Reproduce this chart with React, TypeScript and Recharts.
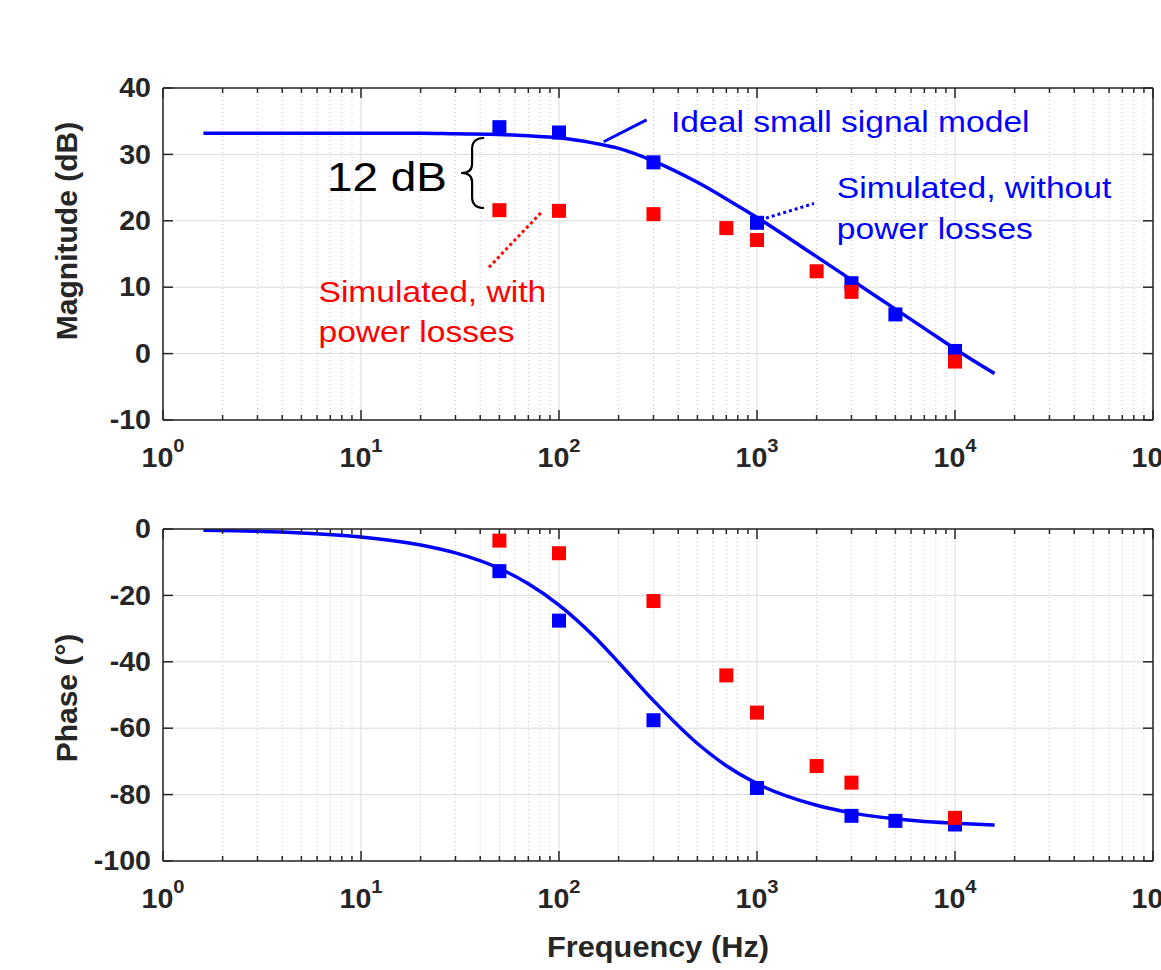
import React from 'react';
import {
  ComposedChart,
  Line,
  Scatter,
  XAxis,
  YAxis,
  CartesianGrid,
  ReferenceLine,
  ReferenceDot,
} from 'recharts';

const FONT = '"Liberation Sans", Arial, Helvetica, sans-serif';
const AXIS = '#262626';
const BLUE = '#0000ff';
const RED = '#ff0000';
const SX = 1.06; // the picture is a bit wider than the fonts

// ideal small signal model
const idealFreq = [1.6, 3, 5, 10, 20, 30, 50, 70, 100, 150, 200, 300, 500, 700, 1000, 2000, 3000, 5000, 7000, 10000, 15850];
const idealMag = [33.2, 33.2, 33.2, 33.2, 33.2, 33.1, 33.0, 32.8, 32.5, 31.7, 30.9, 29.0, 25.8, 23.3, 20.5, 14.6, 11.1, 6.7, 3.8, 0.7, -3.0];
const idealPhase = [-0.4, -0.7, -1.2, -2.4, -4.8, -7.2, -11.9, -16.5, -22.9, -32.3, -40.2, -51.7, -64.6, -71.3, -76.7, -83.2, -85.5, -87.3, -88.1, -88.6, -89.2];

// simulated, without power losses (blue squares)
const noLossFreq = [50, 100, 300, 1000, 3000, 5000, 10000];
const noLossMag = [34.1, 33.3, 28.8, 19.7, 10.6, 5.9, 0.4];
const noLossPhase = [-12.7, -27.6, -57.6, -78.0, -86.4, -87.9, -89.0];

// simulated, with power losses (red squares)
const lossFreq = [50, 100, 300, 700, 1000, 2000, 3000, 10000];
const lossMag = [21.6, 21.5, 21.0, 18.9, 17.1, 12.4, 9.3, -1.2];
const lossPhase = [-3.5, -7.3, -21.7, -44.1, -55.3, -71.4, -76.4, -87.0];

const freqMajor = [1, 10, 100, 1000, 10000, 100000];
const magTicks = [-10, 0, 10, 20, 30, 40];
const phaseTicks = [-100, -80, -60, -40, -20, 0];

const freqMinor: number[] = [];
for (const d of freqMajor.slice(0, -1)) {
  for (let k = 2; k <= 9; k++) freqMinor.push(d * k);
}
const freqAll = [...freqMajor, ...freqMinor].sort((a, b) => a - b);

const pts = (fs: number[], vs: number[]) => fs.map((f, i) => ({ f, v: vs[i] }));

const txt = {
  fontFamily: FONT,
  fill: AXIS,
};

const BottomTick = ({ x, y, payload }: any) => {
  const v = payload.value;
  const major = freqMajor.includes(v);
  return (
    <g>
      <line x1={x} x2={x} y1={y} y2={y - (major ? 10 : 5)} stroke={AXIS} strokeWidth={1.5} />
      {major && (
        <text transform={`translate(${x},${y + 47}) scale(${SX},1)`} textAnchor="middle" fontWeight="bold" fontSize={27} {...txt}>
          <tspan>10</tspan>
          <tspan dy={-15} fontSize={19}>{Math.round(Math.log10(v))}</tspan>
        </text>
      )}
    </g>
  );
};

const TopTick = ({ x, y, payload }: any) => {
  const major = freqMajor.includes(payload.value);
  return <line x1={x} x2={x} y1={y} y2={y + (major ? 10 : 5)} stroke={AXIS} strokeWidth={1.5} />;
};

const LeftTick = ({ x, y, payload }: any) => (
  <g>
    <line x1={x} x2={x + 10} y1={y} y2={y} stroke={AXIS} strokeWidth={1.5} />
    <text transform={`translate(${x - 12},${y}) scale(${SX},1)`} textAnchor="end" dominantBaseline="central" fontWeight="bold" fontSize={27} {...txt}>
      {payload.value}
    </text>
  </g>
);

const RightTick = ({ x, y }: any) => <line x1={x} x2={x - 10} y1={y} y2={y} stroke={AXIS} strokeWidth={1.5} />;

// vertical grid: solid at decades, dotted in between
const VGrid = (p: any) => {
  const major = freqMajor.includes(freqAll[p.index]);
  return (
    <line
      key={p.key}
      x1={p.x1}
      x2={p.x2}
      y1={p.y1}
      y2={p.y2}
      stroke={major ? '#dcdcdc' : '#c4c4c4'}
      strokeWidth={1}
      strokeDasharray={major ? undefined : '1 3'}
    />
  );
};

const Note = ({ text, color, size = 30, anchor = 'start' }: { text: string; color: string; size?: number; anchor?: string }) =>
  (p: any) => (
    <text
      transform={`translate(${p.cx},${p.cy}) scale(1.12,1)`}
      textAnchor={anchor}
      dominantBaseline="central"
      fontFamily={FONT}
      fontSize={size}
      fill={color}
    >
      {text}
    </text>
  );

const Brace = (p: any) => {
  const { cx, cy } = p;
  const d = `M${cx + 12},${cy - 35} Q${cx},${cy - 35} ${cx},${cy - 24} L${cx},${cy - 9} Q${cx},${cy} ${cx - 11},${cy} Q${cx},${cy} ${cx},${cy + 9} L${cx},${cy + 24} Q${cx},${cy + 35} ${cx + 12},${cy + 35}`;
  return <path d={d} stroke="#000" strokeWidth={2.2} fill="none" />;
};

type PanelProps = {
  top: number;
  height: number;
  xHeight: number;
  domain: [number, number];
  yTicks: number[];
  ideal: number[];
  noLoss: number[];
  loss: number[];
  title: string;
  titleY: number;
  xTitle?: string;
  children?: React.ReactNode;
};

function Panel({ top, height, xHeight, domain, yTicks, ideal, noLoss, loss, title, titleY, xTitle, children }: PanelProps) {
  const xCommon = {
    type: 'number' as const,
    scale: 'log' as const,
    domain: [1, 100000],
    allowDataOverflow: true,
    ticks: freqAll,
    interval: 0 as const,
    tickLine: false,
    tickSize: 0,
    tickMargin: 0,
    axisLine: { stroke: AXIS, strokeWidth: 1.5 },
  };
  const yCommon = {
    type: 'number' as const,
    domain,
    allowDataOverflow: true,
    ticks: yTicks,
    interval: 0 as const,
    tickLine: false,
    tickSize: 0,
    tickMargin: 0,
    axisLine: { stroke: AXIS, strokeWidth: 1.5 },
  };
  return (
    <div style={{ position: 'absolute', left: 0, top, width: 1161, height }}>
      <ComposedChart width={1161} height={height} margin={{ top: 87, right: 7, bottom: height - 420 - xHeight, left: 103 }}>
        <CartesianGrid xAxisId="x" yAxisId="y" horizontal={false} vertical={VGrid} />
        <CartesianGrid xAxisId="x" yAxisId="y" vertical={false} stroke="#dcdcdc" />
        <XAxis
          xAxisId="x"
          dataKey="f"
          height={xHeight}
          {...xCommon}
          tick={<BottomTick />}
          label={
            xTitle
              ? (p: any) => (
                  <text
                    transform={`translate(${p.viewBox.x + p.viewBox.width / 2},${p.viewBox.y + 96}) scale(${SX},1)`}
                    textAnchor="middle"
                    fontWeight="bold"
                    fontSize={29}
                    {...txt}
                  >
                    {xTitle}
                  </text>
                )
              : undefined
          }
        />
        <XAxis xAxisId="top" orientation="top" dataKey="f" height={1} {...xCommon} tick={<TopTick />} />
        <YAxis
          yAxisId="y"
          dataKey="v"
          width={60}
          {...yCommon}
          tick={<LeftTick />}
          label={(p: any) => (
            <text
              transform={`translate(${p.viewBox.x - 37},${p.viewBox.y + titleY}) rotate(-90)`}
              textAnchor="middle"
              dominantBaseline="central"
              fontWeight="bold"
              fontSize={30}
              {...txt}
            >
              {title}
            </text>
          )}
        />
        <YAxis yAxisId="right" orientation="right" width={1} {...yCommon} tick={<RightTick />} />
        <Scatter
          xAxisId="x"
          yAxisId="y"
          data={pts(noLossFreq, noLoss)}
          dataKey="v"
          isAnimationActive={false}
          shape={(p: any) => <rect x={p.cx - 7} y={p.cy - 7} width={14} height={14} fill={BLUE} />}
        />
        <Line
          xAxisId="x"
          yAxisId="y"
          data={pts(idealFreq, ideal)}
          dataKey="v"
          type="monotone"
          stroke={BLUE}
          strokeWidth={3.5}
          dot={false}
          activeDot={false}
          isAnimationActive={false}
        />
        <Scatter
          xAxisId="x"
          yAxisId="y"
          data={pts(lossFreq, loss)}
          dataKey="v"
          isAnimationActive={false}
          shape={(p: any) => <rect x={p.cx - 7} y={p.cy - 7} width={14} height={14} fill={RED} />}
        />
        {children}
      </ComposedChart>
    </div>
  );
}

export default function App() {
  return (
    <div style={{ position: 'absolute', left: 0, top: 0, width: 1161, height: 970, background: '#fff' }}>
      <Panel
        top={0}
        height={480}
        xHeight={50}
        domain={[-10, 40]}
        yTicks={magTicks}
        ideal={idealMag}
        noLoss={noLossMag}
        loss={lossMag}
        title="Magnitude (dB)"
        titleY={143}
      >
        <ReferenceLine xAxisId="x" yAxisId="y" segment={[{ x: 168, y: 31.9 }, { x: 277, y: 35.2 }]} stroke={BLUE} strokeWidth={3} />
        <ReferenceLine xAxisId="x" yAxisId="y" segment={[{ x: 44.3, y: 13.0 }, { x: 81, y: 21.2 }]} stroke={RED} strokeWidth={3} strokeDasharray="3 3" />
        <ReferenceLine xAxisId="x" yAxisId="y" segment={[{ x: 1110, y: 20.4 }, { x: 1938, y: 22.6 }]} stroke={BLUE} strokeWidth={3} strokeDasharray="3 3" />
        <ReferenceDot xAxisId="x" yAxisId="y" x={368} y={35.0} r={0} shape={Note({ text: 'Ideal small signal model', color: BLUE })} />
        <ReferenceDot xAxisId="x" yAxisId="y" x={2530} y={25.0} r={0} shape={Note({ text: 'Simulated, without', color: BLUE })} />
        <ReferenceDot xAxisId="x" yAxisId="y" x={2530} y={18.8} r={0} shape={Note({ text: 'power losses', color: BLUE })} />
        <ReferenceDot xAxisId="x" yAxisId="y" x={6.1} y={9.3} r={0} shape={Note({ text: 'Simulated, with', color: RED })} />
        <ReferenceDot xAxisId="x" yAxisId="y" x={6.1} y={3.25} r={0} shape={Note({ text: 'power losses', color: RED })} />
        <ReferenceDot xAxisId="x" yAxisId="y" x={6.73} y={26.6} r={0} shape={Note({ text: '12 dB', color: '#000', size: 41 })} />
        <ReferenceDot xAxisId="x" yAxisId="y" x={36.4} y={27.2} r={0} shape={Brace} />
      </Panel>
      <Panel
        top={441}
        height={529}
        xHeight={100}
        domain={[-100, 0]}
        yTicks={phaseTicks}
        ideal={idealPhase}
        noLoss={noLossPhase}
        loss={lossPhase}
        title="Phase (°)"
        titleY={169}
        xTitle="Frequency (Hz)"
      />
    </div>
  );
}
